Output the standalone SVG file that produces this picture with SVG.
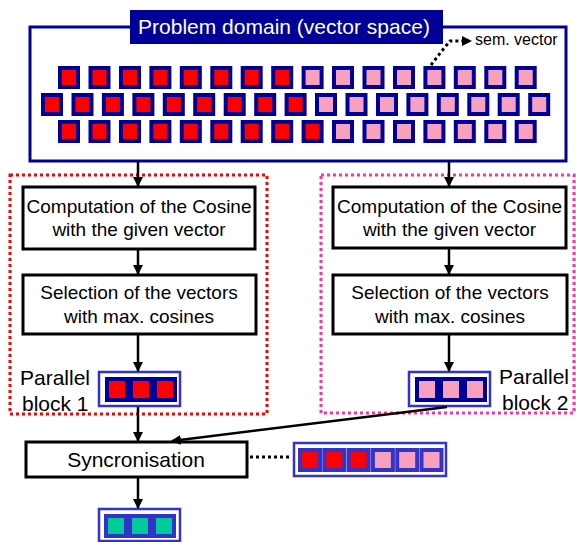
<svg xmlns="http://www.w3.org/2000/svg" xmlns:xlink="http://www.w3.org/1999/xlink" width="576" height="542" viewBox="0 0 576 542">
  <style>
    text { font-family: "Liberation Sans", Arial, sans-serif; fill: #000; }
    .lbl { font-size: 19px; text-anchor: middle; }
    .big { font-size: 21px; }
    .box { fill: #fff; stroke: #000; stroke-width: 3; }
    .conn { stroke: #000; stroke-width: 2.5; fill: none; }
    .dot { stroke: #000; stroke-width: 3; fill: none; stroke-dasharray: 3 3; }
    .frame { fill: #fff; stroke: #3333cc; stroke-width: 2.5; }
  </style>
  <defs>
    <marker id="ah" viewBox="0 0 10 10" refX="9" refY="5" markerWidth="4" markerHeight="4" orient="auto" markerUnits="strokeWidth">
      <path d="M0,0 L10,5 L0,10 Z" fill="#000"/>
    </marker>
    <!-- vector cells: navy border, coloured core -->
    <g id="sqR"><rect width="22" height="23" fill="#000099"/><rect x="4" y="4" width="14" height="15" fill="#ff0000"/></g>
    <g id="sqP"><rect width="22" height="23" fill="#000099"/><rect x="4" y="4" width="14" height="15" fill="#f8a1be"/></g>
    <g id="cR"><rect width="24" height="25" fill="#000099"/><rect x="4" y="4" width="16" height="17" fill="#ff0000"/></g>
    <g id="cP"><rect width="24" height="25" fill="#000099"/><rect x="4" y="4" width="16" height="17" fill="#f8a1be"/></g>
    <g id="mR"><rect width="24" height="24" fill="#3333cc"/><rect x="4" y="4" width="16" height="16" fill="#ff0000"/></g>
    <g id="mP"><rect width="24" height="24" fill="#3333cc"/><rect x="4" y="4" width="16" height="16" fill="#f8a1be"/></g>
    <g id="mG"><rect width="24" height="24" fill="#3333cc"/><rect x="4" y="4" width="16" height="16" fill="#00c99a"/></g>
  </defs>

  <!-- problem domain -->
  <g id="domain">
    <rect x="30" y="27" width="536" height="134" fill="#fff" stroke="#000099" stroke-width="3"/>
    <rect x="130" y="10" width="313" height="34" fill="#000099"/>
    <text x="284" y="34" class="big" fill="#fff" style="fill:#fff" text-anchor="middle">Problem domain (vector space)</text>
    <!-- row 1: 8 red, 8 pink -->
    <use href="#sqR" x="58" y="66"/><use href="#sqR" x="88.5" y="66"/><use href="#sqR" x="119" y="66"/><use href="#sqR" x="149.4" y="66"/>
    <use href="#sqR" x="179.8" y="66"/><use href="#sqR" x="210.3" y="66"/><use href="#sqR" x="240.7" y="66"/><use href="#sqR" x="271.2" y="66"/>
    <use href="#sqP" x="301.6" y="66"/><use href="#sqP" x="332" y="66"/><use href="#sqP" x="362.5" y="66"/><use href="#sqP" x="393" y="66"/>
    <use href="#sqP" x="423.4" y="66"/><use href="#sqP" x="453.8" y="66"/><use href="#sqP" x="484.3" y="66"/><use href="#sqP" x="514.7" y="66"/>
    <!-- row 2: 9 red, 8 pink -->
    <use href="#sqR" x="41" y="93"/><use href="#sqR" x="71.5" y="93"/><use href="#sqR" x="101.9" y="93"/><use href="#sqR" x="132.4" y="93"/>
    <use href="#sqR" x="162.8" y="93"/><use href="#sqR" x="193.2" y="93"/><use href="#sqR" x="223.7" y="93"/><use href="#sqR" x="254.2" y="93"/>
    <use href="#sqR" x="284.6" y="93"/>
    <use href="#sqP" x="315" y="93"/><use href="#sqP" x="345.5" y="93"/><use href="#sqP" x="376" y="93"/><use href="#sqP" x="406.4" y="93"/>
    <use href="#sqP" x="436.8" y="93"/><use href="#sqP" x="467.3" y="93"/><use href="#sqP" x="497.7" y="93"/><use href="#sqP" x="528.2" y="93"/>
    <!-- row 3: 9 red, 7 pink -->
    <use href="#sqR" x="58" y="120"/><use href="#sqR" x="88.5" y="120"/><use href="#sqR" x="119" y="120"/><use href="#sqR" x="149.4" y="120"/>
    <use href="#sqR" x="179.8" y="120"/><use href="#sqR" x="210.3" y="120"/><use href="#sqR" x="240.7" y="120"/><use href="#sqR" x="271.2" y="120"/>
    <use href="#sqR" x="301.6" y="120"/>
    <use href="#sqP" x="332" y="120"/><use href="#sqP" x="362.5" y="120"/><use href="#sqP" x="393" y="120"/>
    <use href="#sqP" x="423.4" y="120"/><use href="#sqP" x="453.8" y="120"/><use href="#sqP" x="484.3" y="120"/><use href="#sqP" x="514.7" y="120"/>
    <text x="475" y="45" style="font-size:16px">sem. vector</text>
  </g>

  <!-- parallel block frames -->
  <g id="block1">
    <rect x="10" y="175" width="257" height="239" fill="none" stroke="#ff0000" stroke-width="3" stroke-dasharray="3 3"/>
    <text x="20" y="385" class="big">Parallel</text>
    <text x="22" y="411" class="big">block 1</text>
  </g>
  <g id="block2">
    <rect x="321" y="175" width="253" height="238" fill="none" stroke="#ff3399" stroke-width="3" stroke-dasharray="3 3"/>
    <text x="499" y="384" class="big">Parallel</text>
    <text x="502" y="410" class="big">block 2</text>
  </g>

  <g id="cos1">
    <rect x="23" y="187" width="232" height="62" class="box"/>
    <text x="139" y="213" class="lbl">Computation of the Cosine</text>
    <text x="139" y="236" class="lbl">with the given vector</text>
  </g>
  <g id="sel1">
    <rect x="23" y="275" width="233" height="59" class="box"/>
    <text x="139" y="299" class="lbl">Selection of the vectors</text>
    <text x="139" y="323" class="lbl">with max. cosines</text>
  </g>
  <g id="res1">
    <rect x="99" y="372" width="81" height="34" class="frame"/>
    <use href="#cR" x="105" y="377"/><use href="#cR" x="129" y="377"/><use href="#cR" x="153" y="377"/>
  </g>

  <g id="cos2">
    <rect x="333" y="187" width="233" height="61" class="box"/>
    <text x="449.5" y="213" class="lbl">Computation of the Cosine</text>
    <text x="449.5" y="236" class="lbl">with the given vector</text>
  </g>
  <g id="sel2">
    <rect x="333" y="275" width="234" height="59" class="box"/>
    <text x="450" y="299" class="lbl">Selection of the vectors</text>
    <text x="450" y="323" class="lbl">with max. cosines</text>
  </g>
  <g id="res2">
    <rect x="409" y="372" width="81" height="34" class="frame"/>
    <use href="#cP" x="415" y="377"/><use href="#cP" x="439" y="377"/><use href="#cP" x="463" y="377"/>
  </g>

  <g id="sync">
    <rect x="26" y="442" width="221" height="35" class="box"/>
    <text x="136" y="467" class="big" text-anchor="middle">Syncronisation</text>
  </g>
  <g id="merged">
    <rect x="294" y="443" width="152" height="33" class="frame"/>
    <use href="#mR" x="298" y="448"/><use href="#mR" x="322.3" y="448"/><use href="#mR" x="346.6" y="448"/>
    <use href="#mP" x="370.9" y="448"/><use href="#mP" x="395.2" y="448"/><use href="#mP" x="419.5" y="448"/>
  </g>
  <g id="result">
    <rect x="99" y="509" width="81" height="32" class="frame"/>
    <use href="#mG" x="104" y="514"/><use href="#mG" x="128" y="514"/><use href="#mG" x="152" y="514"/>
  </g>

  <!-- connectors -->
  <g id="connectors">
    <line x1="138" y1="162" x2="138" y2="186" class="conn" marker-end="url(#ah)"/>
    <line x1="138" y1="249" x2="138" y2="274" class="conn" marker-end="url(#ah)"/>
    <line x1="138" y1="334" x2="138" y2="371" class="conn" marker-end="url(#ah)"/>
    <line x1="138" y1="407" x2="138" y2="441" class="conn" marker-end="url(#ah)"/>
    <line x1="449" y1="162" x2="449" y2="186" class="conn" marker-end="url(#ah)"/>
    <line x1="449" y1="248" x2="449" y2="274" class="conn" marker-end="url(#ah)"/>
    <line x1="449" y1="334" x2="449" y2="371" class="conn" marker-end="url(#ah)"/>
    <line x1="447" y1="407" x2="172" y2="441" class="conn" marker-end="url(#ah)"/>
    <line x1="138" y1="477" x2="138" y2="508" class="conn" marker-end="url(#ah)"/>
    <line x1="250" y1="457" x2="292" y2="457" class="dot"/>
    <polyline points="431,65 441,52 450,41 463,41" class="dot"/>
    <path d="M462,36 L472,41 L462,46 Z" fill="#000"/>
  </g>
</svg>
